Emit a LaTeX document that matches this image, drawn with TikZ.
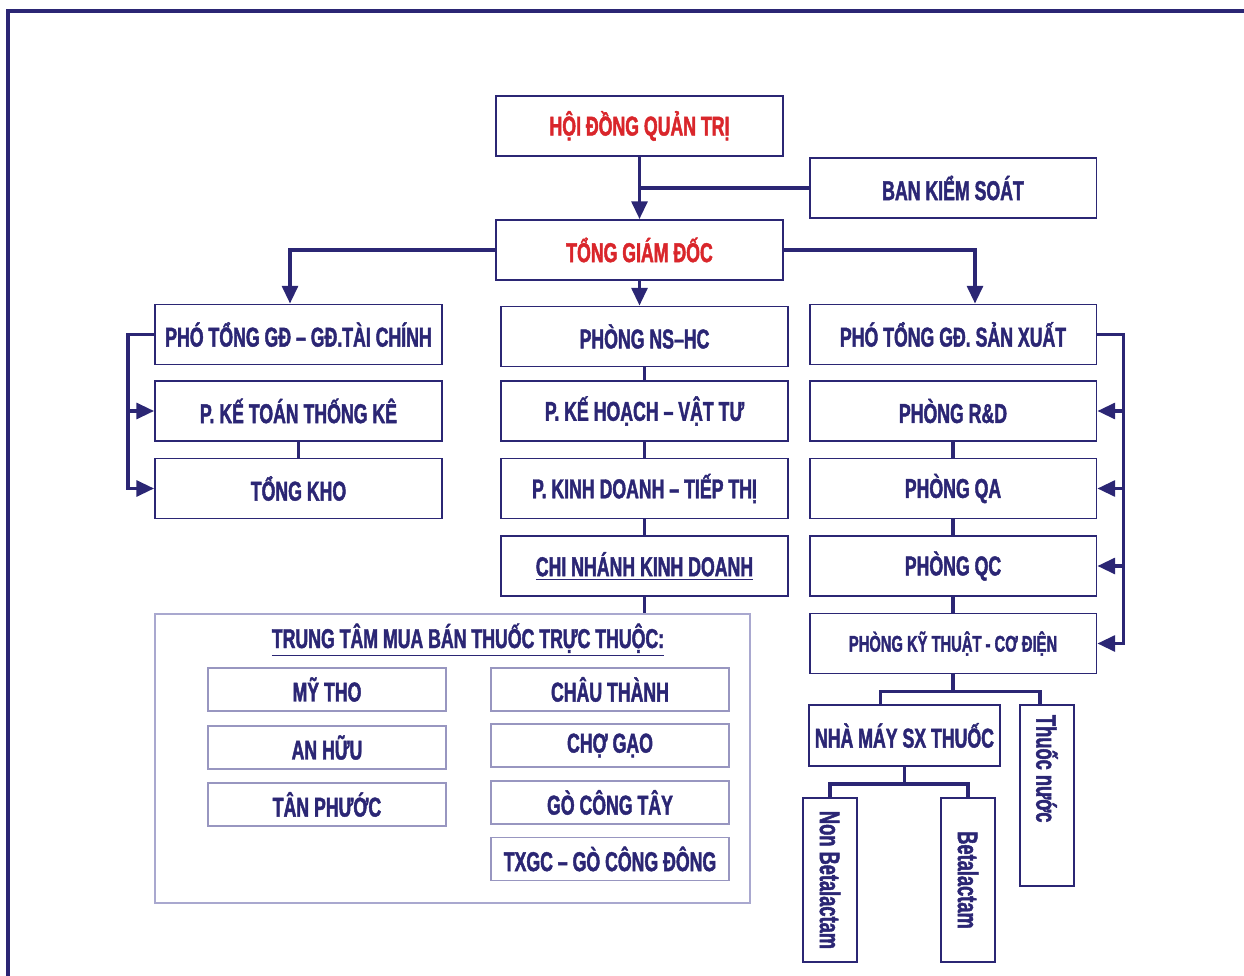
\documentclass[tikz,border=0pt]{standalone}
\usepackage{fontspec}
\usetikzlibrary{arrows.meta}
\newfontfamily\orgfont[FakeStretch=0.65, FakeBold=1.6]{Liberation Sans}
\definecolor{navy}{HTML}{2B2674}
\definecolor{orgred}{HTML}{D9262B}
\definecolor{paleline}{HTML}{A9A8CF}
\definecolor{unitline}{HTML}{9896C0}

\begin{document}
\begin{tikzpicture}
    [x=0.02cm, y=-0.02cm,
    font=\orgfont\bfseries\fontsize{15.5}{18}\selectfont,
    box/.style={draw=navy, line width=1.1pt, text=navy, inner sep=0pt,
        minimum width=5.74cm, minimum height=1.2cm},
    unit/.style={draw=unitline, line width=0.9pt, text=navy, inner sep=0pt,
        minimum width=4.76cm, minimum height=0.86cm},
    tallbox/.style={draw=navy, line width=1.1pt, text=navy, inner sep=0pt,
        minimum width=1.08cm, minimum height=3.28cm, font=\orgfont\bfseries\fontsize{16}{18}\selectfont},
    link/.style={draw=navy, line width=1.8pt},
    arrowlink/.style={link, -{Triangle[length=10pt, width=9pt]}}]
    \useasboundingbox (0,0) rectangle (1244,976);
    % frame
    \draw[navy, line width=1.9pt] (1244,11)--(8,11)--(8,976);
    % board and director
    \node[box, text=orgred] (hdqt) at (639.5,126) {HỘI ĐỒNG QUẢN TRỊ};
    \node[box] (bks) at (953,188) {BAN KIỂM SOÁT};
    \node[box, text=orgred] (tgd) at (639.5,250) {TỔNG GIÁM ĐỐC};
    %left column
    \node[box] (ptc) at (298.5,334.5) {PHÓ TỔNG GĐ – GĐ.TÀI CHÍNH};
    \node[box] (ktk) at (298.5,411) {P. KẾ TOÁN THỐNG KÊ};
    \node[box] (tk) at (298.5,488.5) {TỔNG KHO};
    %middle column
    \node[box] (ns) at (644.5,336.5) {PHÒNG NS–HC};
    \node[box] (kh) at (644.5,411) {P. KẾ HOẠCH – VẬT TƯ};
    \node[box] (kd) at (644.5,488.5) {P. KINH DOANH – TIẾP THỊ};
    \node[box] (cn) at (644.5,566) {\underline{CHI NHÁNH KINH DOANH}};
    %right column
    \node[box] (psx) at (953,334.5) {PHÓ TỔNG GĐ. SẢN XUẤT};
    \node[box] (rd) at (953,411) {PHÒNG R\&D};
    \node[box] (qa) at (953,488.5) {PHÒNG QA};
    \node[box] (qc) at (953,566) {PHÒNG QC};
    \node[box, font=\orgfont\bfseries\fontsize{12.9}{15}\selectfont] (kt) at (953,643.5) {PHÒNG KỸ THUẬT - CƠ ĐIỆN};
    % factory
    \node[box, minimum width=3.82cm, minimum height=1.22cm] (nm) at (904.5,735.5) {NHÀ MÁY SX THUỐC};
    \node[tallbox, minimum height=3.62cm] (tn) at (1047,795.5) {\rotatebox{-90}{\makebox[3.22cm][l]{Thuốc nước}}};
    \node[tallbox] (nonb) at (830,880) {\rotatebox{-90}{Non Betalactam}};
    \node[tallbox] (beta) at (968,880) {\rotatebox{-90}{Betalactam}};
    % trading centres
    \node[draw=paleline, line width=0.9pt, minimum width=11.9cm, minimum height=5.78cm] (tt) at (452.5,758.5) {};
    \node[text=navy] (ttl) at (468,640) {\underline{TRUNG TÂM MUA BÁN THUỐC TRỰC THUỘC:}};
    \node[unit] (mytho) at (327,689.5) {MỸ THO};
    \node[unit] (anhuu) at (327,747.5) {AN HỮU};
    \node[unit] (tanphuoc) at (327,804.5) {TÂN PHƯỚC};
    \node[unit] (chauthanh) at (610,689.5) {CHÂU THÀNH};
    \node[unit] (chogao) at (610,745.5) {CHỢ GẠO};
    \node[unit] (gocongtay) at (610,802.5) {GÒ CÔNG TÂY};
    \node[unit] (txgc) at (610,859) {TXGC – GÒ CÔNG ĐÔNG};
    % links from the top
    \draw[arrowlink] (hdqt.south) -- (tgd.north);
    \draw[link] (bks.west) -- (bks.west -| hdqt.south);
    \draw[arrowlink] (tgd.west) -| ([xshift=-0.17cm]ptc.north);
    \draw[arrowlink] (tgd.south) -- (tgd.south |- ns.north);
    \draw[arrowlink] (tgd.east) -| ([xshift=0.44cm]psx.north);
    % left bracket
    \draw[arrowlink] (ptc.west) -- ++(-26,0) coordinate (lb) |- (tk.west);
    \draw[arrowlink] (lb |- ktk.west) -- (ktk.west);
    \draw[link] (ktk.south) -- (tk.north);
    % middle chain
    \draw[link] (ns.south) -- (kh.north);
    \draw[link] (kh.south) -- (kd.north);
    \draw[link] (kd.south) -- (cn.north);
    \draw[link] (cn.south) -- (cn.south |- tt.north);
    % right bracket
    \draw[arrowlink] (psx.east) -- ++(26,0) coordinate (rb) |- (kt.east);
    \draw[arrowlink] (rb |- rd.east) -- (rd.east);
    \draw[arrowlink] (rb |- qa.east) -- (qa.east);
    \draw[arrowlink] (rb |- qc.east) -- (qc.east);
    \draw[link] (rd.south) -- (qa.north);
    \draw[link] (qa.south) -- (qc.north);
    \draw[link] (qc.south) -- (kt.north);
    % factory links
    \draw[link] (kt.south) -- ++(0,17) coordinate (kj);
    \draw[link] ([xshift=-0.48cm]nm.north) |- (kj) -| ([xshift=-0.14cm]tn.north);
    \draw[link] (nm.south) -- ++(0,17) coordinate (nj);
    \draw[link] (nonb.north) |- (nj) -| (beta.north);
\end{tikzpicture}
\end{document}
